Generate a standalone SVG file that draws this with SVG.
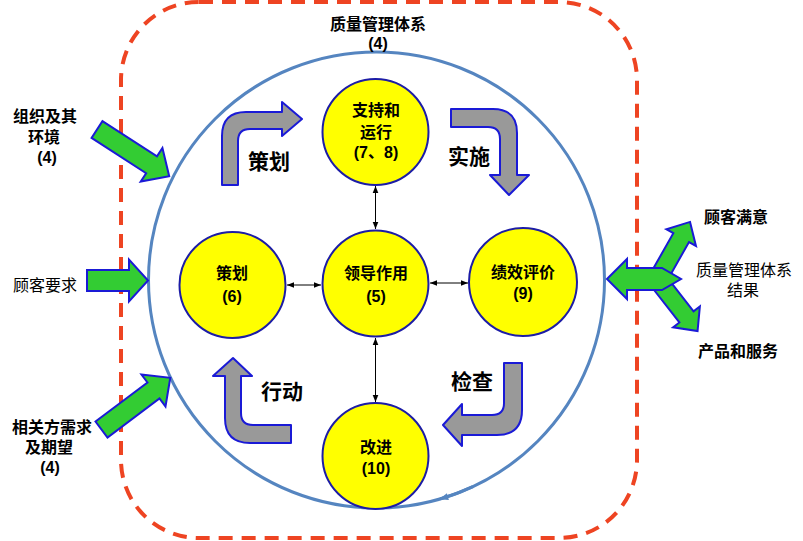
<svg xmlns="http://www.w3.org/2000/svg" width="803" height="541" viewBox="0 0 803 541">
<style>
text{font-family:"Liberation Sans","Noto Sans CJK SC",sans-serif;font-size:16px;text-anchor:middle;fill:#000}
.b{font-weight:bold}
.big{font-size:21px;font-weight:bold}
.node{fill:#ffff00;stroke:#1c1ca6;stroke-width:2}
.gray{fill:#999999;stroke:#1a1ad6;stroke-width:2;stroke-linejoin:round}
.green{fill:#33cc33;stroke:#1a1ad6;stroke-width:2;stroke-linejoin:miter}
.conn{stroke:#000;stroke-width:1;fill:none;marker-start:url(#ah);marker-end:url(#ah)}
</style>
<defs>
<marker id="ah" viewBox="0 0 10 10" refX="10" refY="5" markerWidth="7" markerHeight="7" orient="auto-start-reverse" markerUnits="userSpaceOnUse">
<path d="M0,1 L10,5 L0,9 Z" fill="#000"/>
</marker>
<marker id="bh" viewBox="0 0 10 10" refX="9" refY="5" markerWidth="11" markerHeight="9" orient="auto" markerUnits="userSpaceOnUse">
<path d="M0,1 L10,5 L0,9 Z" fill="#5585c0"/>
</marker>
</defs>
<rect id="boundary" x="121" y="2" width="516" height="536" rx="78" ry="78" fill="none" stroke="#ee4422" stroke-width="4" stroke-dasharray="14 9"/>
<g id="cycle">
<circle cx="376.5" cy="280" r="228" fill="none" stroke="#5585c0" stroke-width="3"/>
<path d="M472.9,486.6 A228,228 0 0,1 440.1,498.9" fill="none" stroke="#5585c0" stroke-width="3" marker-end="url(#bh)"/>
</g>
<g id="title">
<text class="b" x="378" y="30">质量管理体系</text>
<text class="b" x="378" y="49">(4)</text>
</g>
<g id="connectors">
<line class="conn" x1="375.5" y1="186" x2="375.5" y2="229"/>
<line class="conn" x1="287" y1="285" x2="321" y2="285"/>
<line class="conn" x1="430" y1="283" x2="468" y2="283"/>
<line class="conn" x1="375.5" y1="338" x2="375.5" y2="402"/>
</g>
<g id="input-context">
<path class="green" d="M0,-10 L65,-10 L65,-20 L86,0 L65,20 L65,10 L0,10 Z" transform="translate(97,129.5) rotate(32.9)"/>
<text class="b" x="45" y="122">组织及其</text>
<text class="b" x="44" y="143">环境</text>
<text class="b" x="47" y="163">(4)</text>
</g>
<g id="input-customer">
<path class="green" d="M0,-10.5 L42,-10.5 L42,-21 L61,0 L42,21 L42,10.5 L0,10.5 Z" transform="translate(87,280.5)"/>
<text x="45" y="291">顾客要求</text>
</g>
<g id="input-parties">
<path class="green" d="M0,-10 L65,-10 L65,-20 L86,0 L65,20 L65,10 L0,10 Z" transform="translate(101.5,429.5) rotate(-36.9)"/>
<text class="b" x="52" y="433">相关方需求</text>
<text class="b" x="49" y="453">及期望</text>
<text class="b" x="50" y="473">(4)</text>
</g>
<g id="output">
<path class="green" d="M0,-9 L43,-9 L43,-17 L61,0 L43,17 L43,9 L0,9 Z" transform="translate(660,275) rotate(-60.5)"/>
<path class="green" d="M0,-9 L43,-9 L43,-17 L61,0 L43,17 L43,9 L0,9 Z" transform="translate(660,283) rotate(52)"/>
<path class="green" d="M607,279 L627,259 L627,268 L662,268 L681,279 L662,290 L627,290 L627,299 Z"/>
<text class="b" x="736" y="223">顾客满意</text>
<text x="744" y="276">质量管理体系</text>
<text x="743" y="296">结果</text>
<text class="b" x="738" y="357">产品和服务</text>
</g>
<g id="plan-arrow">
<path class="gray" d="M222,185 L222,136 Q222,112 246,112 L282,112 L282,102 L302,119 L282,136 L282,129 L250,129 Q238,129 238,141 L238,185 Z"/>
<text class="big" x="269" y="169">策划</text>
</g>
<g id="do-arrow">
<path class="gray" d="M451,109 L493,109 Q517,109 517,133 L517,175 L529,175 L509,195 L490,175 L500,175 L500,139 Q500,127 488,127 L451,127 Z"/>
<text class="big" x="469" y="164">实施</text>
</g>
<g id="check-arrow">
<path class="gray" d="M504,363 L522,363 L522,410 Q522,435 497,435 L462,435 L462,446 L443,425 L462,404 L462,415 L492,415 Q504,415 504,403 Z"/>
<text class="big" x="472" y="389">检查</text>
</g>
<g id="act-arrow">
<path class="gray" d="M233,358 L252,376 L241,376 L241,413 Q241,425 253,425 L291,425 L291,443 L250,443 Q225,443 225,418 L225,376 L213,376 Z"/>
<text class="big" x="282" y="399">行动</text>
</g>
<g id="support">
<circle class="node" cx="375.5" cy="132" r="53"/>
<text class="b" x="376" y="116">支持和</text>
<text class="b" x="376" y="138">运行</text>
<text class="b" x="376" y="158">(7、8)</text>
</g>
<g id="planning">
<circle class="node" cx="232.5" cy="285" r="53"/>
<text class="b" x="232" y="279">策划</text>
<text class="b" x="232" y="302">(6)</text>
</g>
<g id="leadership">
<circle class="node" cx="375.5" cy="283.5" r="53"/>
<text class="b" x="376" y="279">领导作用</text>
<text class="b" x="376" y="302">(5)</text>
</g>
<g id="evaluation">
<circle class="node" cx="523" cy="282" r="54"/>
<text class="b" x="523" y="278">绩效评价</text>
<text class="b" x="523" y="299">(9)</text>
</g>
<g id="improvement">
<circle class="node" cx="375.5" cy="456" r="53"/>
<text class="b" x="376" y="453">改进</text>
<text class="b" x="376" y="474">(10)</text>
</g>
</svg>
